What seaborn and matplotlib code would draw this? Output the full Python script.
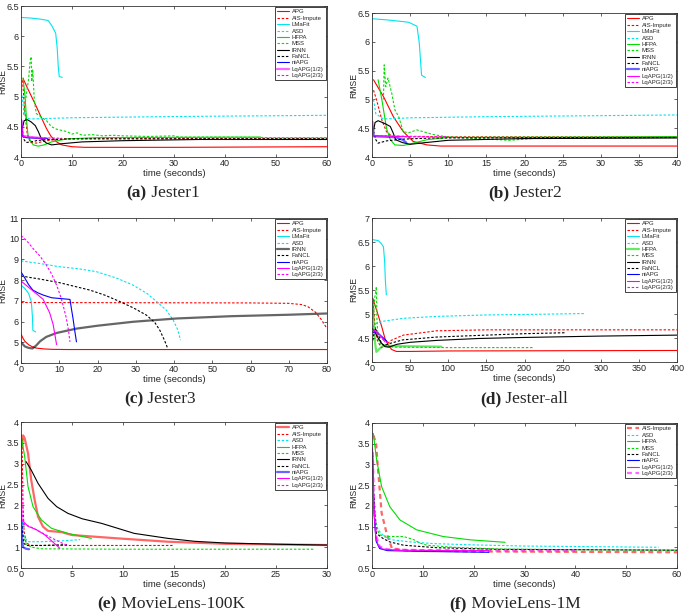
import matplotlib
matplotlib.use('Agg')
import matplotlib.pyplot as plt
import seaborn as sns
import pandas as pd
from matplotlib.ticker import MultipleLocator, FuncFormatter

# ---------------- (a) Jester1 ----------------
a_apg = [(0.4,5.3),(1.5,5.1),(2.7,4.89),(4,4.65),(5,4.47),(5.9,4.34),(7,4.25),(8,4.2),(10,4.17),(12.5,4.16),(30,4.16),(60,4.17)]
a_ais = [(0.3,5.27),(0.7,4.8),(1.2,4.4),(1.8,4.24),(3,4.23),(5,4.27),(8,4.3),(15,4.31),(60,4.31)]
a_lmafit = [(0.1,6.31),(2,6.3),(4,6.28),(5.3,6.26),(6,6.18),(6.8,6.05),(7.1,5.8),(7.3,5.5),(7.5,5.33),(8.1,5.32)]
a_asd = [(0.2,5.02),(0.5,4.8),(1,4.64),(2,4.63),(10,4.65),(30,4.67),(60,4.69)]
a_hfpa = [(0.4,5.31),(0.8,5.0),(1.1,4.6),(1.4,4.34),(2.4,4.2),(3.4,4.18),(4.5,4.2),(6,4.25),(9,4.3),(15,4.32),(47,4.33)]
a_mss = [(0.5,4.7),(1,5.0),(1.5,5.3),(1.8,5.6),(2.0,5.66),(2.1,5.25),(2.3,5.45),(2.6,4.95),(3,4.72),(4,4.66),(5,4.6),(6,4.5),
         (7,4.46),(8,4.44),(9,4.42),(10,4.38),(11,4.4),(12,4.36),(14,4.37),(16,4.35),(18,4.36),(20,4.35),(25,4.34),(30,4.35),
         (31,4.33),(40,4.33),(50,4.32),(60,4.32)]
a_irnn = [(0.2,4.45),(0.6,4.6),(1.2,4.62),(2,4.58),(2.8,4.52),(3.4,4.42),(4,4.3),(5,4.23),(6,4.2),(8,4.22),(12,4.25),(20,4.27),(35,4.29),(60,4.29)]
a_fancl = [(0.2,4.5),(0.5,4.3),(1,4.24),(2,4.25),(3,4.27),(5,4.29),(10,4.3),(60,4.3)]
a_niapg = [(0.1,4.62),(0.3,4.34),(1,4.32),(3,4.31),(5.2,4.31)]
a_lq12 = [(0.1,4.6),(0.3,4.35),(2,4.33),(4.5,4.31)]
a_lq23 = [(0.1,4.55),(0.4,4.34),(3,4.32),(8,4.31)]

# ---------------- (b) Jester2 ----------------
b_apg = [(0.2,5.34),(1.5,5.05),(2.8,4.7),(4.1,4.44),(5.4,4.27),(7.2,4.21),(9,4.19),(40,4.19)]
b_ais = [(0.2,5.16),(0.6,4.99),(1.3,4.64),(1.9,4.44),(2.6,4.36),(5,4.35),(40,4.35)]
b_lmafit = [(0.1,6.4),(2,6.38),(4.8,6.34),(5.9,6.27),(6.2,5.98),(6.35,5.7),(6.5,5.42),(7,5.38)]
b_asd = [(0.2,5.0),(0.5,4.75),(1.5,4.66),(5,4.68),(15,4.7),(40,4.73)]
b_hfpa = [(0.8,5.34),(1.3,4.99),(1.9,4.5),(2.4,4.3),(3,4.21),(4.1,4.2),(5.4,4.24),(7.2,4.3),(10,4.34),(40,4.35)]
b_mss = [(1.5,5.0),(1.6,5.6),(1.8,5.22),(2.1,5.37),(2.6,5.1),(3,4.82),(3.5,4.7),(4.1,4.44),(4.8,4.42),(5.9,4.47),(6.7,4.44),
         (8,4.39),(9.8,4.35),(14,4.32),(18,4.29),(22,4.33),(40,4.35)]
b_irnn = [(0.2,4.45),(0.4,4.6),(0.8,4.63),(1.7,4.58),(2.4,4.53),(2.8,4.41),(3.1,4.3),(4,4.25),(5,4.22),(7,4.25),(10,4.29),(20,4.32),(40,4.33)]
b_fancl = [(0.2,4.45),(0.5,4.3),(0.8,4.24),(1.9,4.28),(4,4.31),(8,4.33),(40,4.34)]
b_niapg = [(0.1,4.5),(0.2,4.36),(2,4.35),(3.2,4.34),(4,4.3),(4.5,4.25)]
b_lq12 = [(0.1,4.62),(0.2,4.37),(3,4.36),(5,4.35)]
b_lq23 = [(0.1,4.55),(0.25,4.37),(5,4.36),(10,4.35)]

# ---------------- (c) Jester3 ----------------
c_apg = [(0,5.4),(0.5,5.2),(1,5.05),(2,4.88),(3,4.78),(4,4.72),(6,4.68),(8,4.66),(12,4.65),(80,4.65)]
c_ais = [(0,6.92),(30,6.91),(60,6.9),(70,6.88),(73.4,6.82),(75,6.72),(77,6.45),(78.5,6.1),(80,5.66)]
c_lmafit = [(0,7.76),(1,7.6),(2,7.35),(2.7,6.96),(3,6.2),(3.1,5.58),(3.8,5.5)]
c_asd = [(0,8.93),(5,8.8),(10,8.65),(15,8.55),(19.7,8.41),(25,8.1),(29.3,7.76),(33,7.35),(35.5,6.96),(38,6.55),(39.8,6.07),(41,5.6),(41.7,5.1)]
c_irnn = [(0,5.0),(1,4.8),(2,4.73),(3,4.7),(4,4.85),(5,5.05),(6.6,5.26),(9.3,5.45),(14.5,5.66),(20,5.8),(29.3,5.99),(40.7,6.15),(55,6.26),(70,6.33),(80,6.39)]
c_fancl = [(0,8.2),(5,8.05),(10,7.88),(18,7.52),(22,7.27),(25.9,6.96),(29.5,6.65),(32.8,6.31),(35,5.95),(36.3,5.58),(37.5,5.1),(38.3,4.73)]
c_niapg = [(0,8.4),(1,8.1),(2,7.78),(3.1,7.52),(4.5,7.38),(5.8,7.28),(8,7.15),(12.8,7.07),(13.2,6.6),(13.6,6.15),(14.1,5.5),(14.5,5.02)]
c_lq12 = [(0,7.96),(2,7.65),(4,7.35),(5.8,7.07),(7.5,6.42),(8.4,5.86),(9.3,4.89)]
c_lq23 = [(0,10.15),(1.5,9.9),(3.1,9.54),(5,9.15),(6.6,8.73),(8,8.3),(9.3,7.76),(10.2,7.3),(11,6.79),(11.8,6.2),(12.4,5.6),(12.8,5.02)]

# ---------------- (d) Jester-all ----------------
d_apg = [(1,5.33),(6,5.08),(12.7,4.74),(17,4.49),(21.4,4.35),(25.8,4.26),(32,4.22),(50,4.22),(100,4.23),(400,4.24)]
d_ais = [(1.3,5.26),(4,4.75),(7,4.45),(12,4.3),(18,4.35),(25,4.45),(41,4.56),(85,4.65),(150,4.67),(400,4.67)]
d_lmafit = [(0.5,6.55),(8,6.53),(12,6.47),(15,6.4),(16.6,6.09),(17.5,5.7),(18.8,5.4)]
d_asd = [(1,4.72),(5,4.8),(15,4.85),(41,4.91),(85,4.95),(150,4.98),(200,4.99),(280,5.01)]
d_hfpa = [(1,5.2),(2.5,4.8),(4,4.4),(5.7,4.21),(10,4.28),(16.6,4.35),(30,4.33),(91,4.32)]
d_mss = [(1.3,4.9),(3.5,5.33),(5.2,5.5),(5.7,5.57),(6.5,4.9),(7.9,4.49),(12.2,4.35),(20,4.32),(30,4.31),(100,4.3),(211,4.3)]
d_irnn = [(0.5,4.7),(4,4.62),(8,4.5),(12,4.4),(17,4.32),(22,4.31),(33,4.37),(50,4.41),(85,4.45),(140,4.49),(195,4.51),(300,4.54),(400,4.56)]
d_fancl = [(1,4.45),(4,4.7),(8,4.6),(12,4.4),(16,4.34),(22,4.38),(40,4.46),(85,4.52),(150,4.56),(200,4.59),(254,4.61)]
d_niapg = [(1,4.62),(8,4.6),(15,4.5),(20,4.42)]
d_lq12 = [(1,4.68),(5,4.64),(10,4.57),(17,4.42)]
d_lq23 = [(1,4.65),(6,4.6),(12,4.5),(20,4.4)]

# ---------------- (e) MovieLens-100K ----------------
e_apg = [(0.1,3.4),(0.2,3.68),(0.36,3.61),(0.69,3.25),(1.0,2.61),(1.34,2.13),(1.67,1.73),(2.16,1.49),(2.65,1.39),(4,1.36),
         (4.4,1.33),(5,1.29),(9.5,1.21),(14.4,1.13),(20,1.08),(30,1.05)]
e_ais = [(0.1,3.6),(0.15,2.8),(0.2,2.0),(0.3,1.4),(0.5,1.1),(1,1.04),(5,1.04),(15,1.04)]
e_asd = [(0.15,1.6),(0.3,1.25),(0.69,1.13),(2,1.13),(4,1.15),(5.8,1.18)]
e_hfpa = [(0,3.7),(0.36,3.17),(0.69,2.45),(1.18,1.97),(2.0,1.65),(3.0,1.45),(4.6,1.33),(6.9,1.21)]
e_mss = [(0.2,1.3),(0.5,1.08),(1,1.0),(2,0.96),(10,0.95),(28.7,0.95)]
e_irnn = [(0.5,3.05),(1,2.85),(1.67,2.53),(2.65,2.17),(3.5,1.97),(4.6,1.81),(6,1.68),(7.9,1.57),(9.5,1.45),(11.1,1.33),
          (14.4,1.21),(17,1.14),(20,1.1),(25,1.07),(30,1.05)]
e_fancl = [(0.1,1.5),(0.25,1.1),(0.5,1.04),(2,1.04),(4.5,1.06)]
e_niapg = [(0.05,1.65),(0.1,1.2),(0.2,1.0),(0.5,0.96),(0.8,0.95)]
e_lq12 = [(0.02,3.5),(0.05,2.3),(0.08,1.65),(0.69,1.5),(1.5,1.42),(2.3,1.3),(3.0,1.15),(3.6,1.02),(3.8,0.97)]
e_lq23 = [(0.03,3.3),(0.1,1.8),(0.3,1.55),(1,1.48),(2,1.35),(3,1.22),(4,1.1),(4.6,1.04)]

# ---------------- (f) MovieLens-1M ----------------
f_ais = [(0.3,3.7),(0.8,3.5),(1.24,2.79),(1.9,1.82),(2.9,1.33),(3.9,0.98),(6,0.93),(20,0.9),(60,0.88)]
f_asd = [(0.3,2.2),(0.6,1.7),(1.2,1.42),(2.5,1.25),(4,1.18),(7.5,1.13),(12,1.09),(19.3,1.06),(30,1.03),(56.4,1.0)]
f_hfpa = [(0.26,3.75),(0.5,3.5),(0.92,3.11),(1.9,2.46),(3.5,1.98),(5.5,1.66),(8.8,1.42),(14,1.26),(19.3,1.18),(26.2,1.12)]
f_mss = [(0.4,2.2),(0.8,1.5),(1.5,1.3),(2.9,1.26),(6.2,1.26),(8.1,1.19),(9.5,1.1),(10.8,1.05),(16,1.0),(25,0.96),(40,0.94),(60,0.93)]
f_fancl = [(0.3,2.4),(0.6,1.6),(0.9,1.33),(2.2,1.21),(3.5,1.13),(6.2,1.05),(12.7,0.99),(25,0.95),(60,0.93)]
f_niapg = [(0.15,3.2),(0.4,1.8),(0.8,1.15),(1.5,0.97),(3,0.92),(10,0.9),(23,0.88)]
f_lq12 = [(0.1,3.4),(0.3,2.2),(0.7,1.3),(1.2,1.05),(2,0.96),(5,0.93),(15,0.92),(23,0.92)]
f_lq23 = [(0.15,3.3),(0.4,2.0),(0.9,1.25),(1.5,1.02),(3,0.95),(10,0.93),(40,0.92)]

sns.set_style('ticks')
plt.rcParams['font.family'] = ['Liberation Sans', 'DejaVu Sans']

dash = (0, (2.2, 1.6))
style = {
    'APG': ('#ff0000', '-'), 'AIS-Impute': ('#ff0000', dash),
    'LMaFit': ('#00e5ee', '-'), 'ASD': ('#00e5ee', dash),
    'HFPA': ('#00dd00', '-'), 'MSS': ('#00dd00', dash),
    'IRNN': ('#000000', '-'), 'FaNCL': ('#000000', dash),
    'niAPG': ('#0000ff', '-'),
    'LqAPG(1/2)': ('#ff00ff', '-'), 'LqAPG(2/3)': ('#ff00ff', dash),
}

W, H = 685, 615
fig = plt.figure(figsize=(W / 100, H / 100), dpi=100)


def panel(box, series, thick, xmax, xstep, ylim, ystep):
    l, t, r, b = box
    ax = fig.add_axes([l / W, 1 - b / H, (r - l) / W, (b - t) / H])
    for name, pts in series:
        df = pd.DataFrame(pts, columns=['t', 'rmse'])
        color, ls = style[name]
        big = name in thick
        sns.lineplot(data=df, x='t', y='rmse', ax=ax, color=color, linestyle=ls,
                     lw=1.6 if big else 0.8, alpha=0.6 if big else 1.0,
                     sort=False, estimator=None, label=name)
    ax.set_xlim(0, xmax)
    ax.set_ylim(*ylim)
    ax.xaxis.set_major_locator(MultipleLocator(xstep))
    ax.yaxis.set_major_locator(MultipleLocator(ystep))
    fmt = FuncFormatter(lambda v, p: '%g' % v)
    ax.xaxis.set_major_formatter(fmt)
    ax.yaxis.set_major_formatter(fmt)
    ax.tick_params(direction='in', length=2.5, width=0.5, labelsize=6.5, top=True, right=True, pad=1.5)
    for s in ax.spines.values():
        s.set_linewidth(0.6)
        s.set_color('#333333')
    ax.set_xlabel('time (seconds)', fontsize=6.8, labelpad=0.5)
    ax.set_ylabel('RMSE', fontsize=6.2)
    ax.yaxis.set_label_coords(-13.5 / (r - l), 0.5)
    ax.legend(loc='upper right', fontsize=4.3, frameon=True, fancybox=False, edgecolor='#222222',
              framealpha=1, handlelength=2.0, handletextpad=0.5, borderpad=0.3, labelspacing=0.2,
              borderaxespad=0.25).get_frame().set_linewidth(0.6)
    return ax


def caption(cx, cy, tag, name):
    r = fig.canvas.get_renderer()
    t1 = fig.text(0, 1 - cy / H, tag, fontsize=12.5, fontweight='bold', family='Liberation Serif', va='center')
    t2 = fig.text(0, 1 - cy / H, ' ' + name, fontsize=12.5, family='Liberation Serif', va='center')
    w1 = t1.get_window_extent(r).width
    w2 = t2.get_window_extent(r).width
    x0 = cx - (w1 + w2) / 2
    t1.set_x(x0 / W)
    t2.set_x((x0 + w1) / W)


panel((21, 6, 327, 157),
      [('APG', a_apg), ('AIS-Impute', a_ais), ('LMaFit', a_lmafit), ('ASD', a_asd), ('HFPA', a_hfpa),
       ('MSS', a_mss), ('IRNN', a_irnn), ('FaNCL', a_fancl), ('niAPG', a_niapg),
       ('LqAPG(1/2)', a_lq12), ('LqAPG(2/3)', a_lq23)],
      {'LqAPG(1/2)'}, 60, 10, (4, 6.5), 0.5)
panel((372, 13, 677, 157),
      [('APG', b_apg), ('AIS-Impute', b_ais), ('LMaFit', b_lmafit), ('ASD', b_asd), ('HFPA', b_hfpa),
       ('MSS', b_mss), ('IRNN', b_irnn), ('FaNCL', b_fancl), ('niAPG', b_niapg),
       ('LqAPG(1/2)', b_lq12), ('LqAPG(2/3)', b_lq23)],
      {'niAPG'}, 40, 5, (4, 6.5), 0.5)
panel((21, 218, 327, 363),
      [('APG', c_apg), ('AIS-Impute', c_ais), ('LMaFit', c_lmafit), ('ASD', c_asd),
       ('IRNN', c_irnn), ('FaNCL', c_fancl), ('niAPG', c_niapg),
       ('LqAPG(1/2)', c_lq12), ('LqAPG(2/3)', c_lq23)],
      {'IRNN'}, 80, 10, (4, 11), 1)
panel((372, 218, 677, 362),
      [('APG', d_apg), ('AIS-Impute', d_ais), ('LMaFit', d_lmafit), ('ASD', d_asd), ('HFPA', d_hfpa),
       ('MSS', d_mss), ('IRNN', d_irnn), ('FaNCL', d_fancl), ('niAPG', d_niapg),
       ('LqAPG(1/2)', d_lq12), ('LqAPG(2/3)', d_lq23)],
      {'HFPA'}, 400, 50, (4, 7), 0.5)
panel((21, 422, 327, 568),
      [('APG', e_apg), ('AIS-Impute', e_ais), ('ASD', e_asd), ('HFPA', e_hfpa),
       ('MSS', e_mss), ('IRNN', e_irnn), ('FaNCL', e_fancl), ('niAPG', e_niapg),
       ('LqAPG(1/2)', e_lq12), ('LqAPG(2/3)', e_lq23)],
      {'APG', 'niAPG'}, 30, 5, (0.5, 4), 0.5)
panel((372, 423, 677, 568),
      [('AIS-Impute', f_ais), ('ASD', f_asd), ('HFPA', f_hfpa), ('MSS', f_mss),
       ('FaNCL', f_fancl), ('niAPG', f_niapg), ('LqAPG(1/2)', f_lq12), ('LqAPG(2/3)', f_lq23)],
      {'AIS-Impute', 'LqAPG(2/3)'}, 60, 10, (0.5, 4), 0.5)

caption(163, 193, '(a)', 'Jester1')
caption(525, 193, '(b)', 'Jester2')
caption(160, 399, '(c)', 'Jester3')
caption(524, 399, '(d)', 'Jester-all')
caption(171, 604, '(e)', 'MovieLens-100K')
caption(515, 604, '(f)', 'MovieLens-1M')

fig.savefig('out.png', dpi=100, facecolor='white')
